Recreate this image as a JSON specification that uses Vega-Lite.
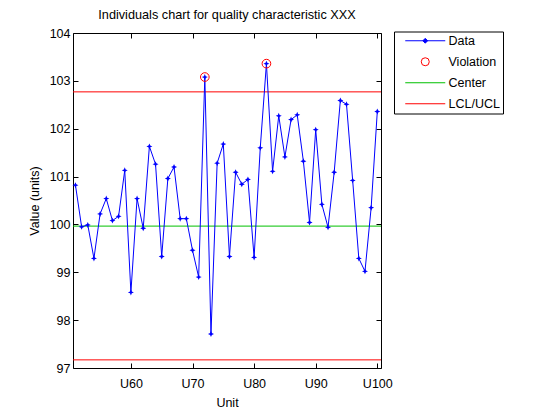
{
  "$schema": "https://vega.github.io/schema/vega-lite/v6.json",
  "width": 308,
  "height": 335,
  "autosize": {"type": "none"},
  "padding": {"left": 73, "top": 33, "right": 179, "bottom": 52},
  "background": "white",
  "title": {"text": "Individuals chart for quality characteristic XXX", "fontSize": 12.7, "fontWeight": "normal", "font": "Liberation Sans", "color": "black", "offset": 5, "anchor": "middle", "frame": "group"},
  "config": {
    "font": "Liberation Sans",
    "view": {"stroke": "black", "strokeWidth": 1},
    "axis": {"grid": false, "domain": false, "tickColor": "black", "tickSize": -5, "tickWidth": 1, "labelColor": "black", "titleColor": "black", "labelFontSize": 12.5, "titleFontSize": 12.5, "titleFontWeight": "normal", "labelFont": "Liberation Sans", "titleFont": "Liberation Sans"}
  },
  "datasets": {
    "obs": [
      {"unit": 51, "value": 100.82}, {"unit": 52, "value": 99.95}, {"unit": 53, "value": 99.99}, {"unit": 54, "value": 99.29},
      {"unit": 55, "value": 100.22}, {"unit": 56, "value": 100.54}, {"unit": 57, "value": 100.08}, {"unit": 58, "value": 100.17},
      {"unit": 59, "value": 101.13}, {"unit": 60, "value": 98.58}, {"unit": 61, "value": 100.54}, {"unit": 62, "value": 99.92},
      {"unit": 63, "value": 101.63}, {"unit": 64, "value": 101.26}, {"unit": 65, "value": 99.33}, {"unit": 66, "value": 100.96},
      {"unit": 67, "value": 101.2}, {"unit": 68, "value": 100.12}, {"unit": 69, "value": 100.12}, {"unit": 70, "value": 99.46},
      {"unit": 71, "value": 98.9}, {"unit": 72, "value": 103.08}, {"unit": 73, "value": 97.71}, {"unit": 74, "value": 101.28},
      {"unit": 75, "value": 101.68}, {"unit": 76, "value": 99.33}, {"unit": 77, "value": 101.09}, {"unit": 78, "value": 100.84},
      {"unit": 79, "value": 100.94}, {"unit": 80, "value": 99.31}, {"unit": 81, "value": 101.6}, {"unit": 82, "value": 103.36},
      {"unit": 83, "value": 101.11}, {"unit": 84, "value": 102.27}, {"unit": 85, "value": 101.41}, {"unit": 86, "value": 102.19},
      {"unit": 87, "value": 102.29}, {"unit": 88, "value": 101.32}, {"unit": 89, "value": 100.04}, {"unit": 90, "value": 101.98},
      {"unit": 91, "value": 100.42}, {"unit": 92, "value": 99.94}, {"unit": 93, "value": 101.09}, {"unit": 94, "value": 102.59},
      {"unit": 95, "value": 102.51}, {"unit": 96, "value": 100.92}, {"unit": 97, "value": 99.29}, {"unit": 98, "value": 99.02},
      {"unit": 99, "value": 100.35}, {"unit": 100, "value": 102.36}
    ],
    "limits": [
      {"name": "Center", "y": 99.965},
      {"name": "LCL/UCL", "y": 102.77},
      {"name": "LCL/UCL", "y": 97.17}
    ]
  },
  "resolve": {"axis": {"x": "independent", "y": "independent"}},
  "layer": [
    {
      "data": {"name": "limits"},
      "mark": {"type": "rule", "strokeWidth": 1},
      "encoding": {
        "y": {"field": "y", "type": "quantitative", "scale": {"domain": [97, 104], "nice": false, "zero": false},
              "axis": {"orient": "left", "values": [97, 98, 99, 100, 101, 102, 103, 104], "title": "Value (units)", "labelPadding": 8, "titlePadding": 8}},
        "color": {"field": "name", "type": "nominal",
          "scale": {"domain": ["Data", "Violation", "Center", "LCL/UCL"], "range": ["#0000ff", "#ff0000", "#00c000", "#ff0000"]},
          "legend": {
            "title": null, "orient": "none", "legendX": 321, "legendY": -1.5, "padding": 3,
            "strokeColor": "black", "fillColor": "white",
            "symbolSize": 64, "rowPadding": 8, "labelFontSize": 12.5, "labelColor": "black", "labelFont": "Liberation Sans",
            "symbolOffset": 22, "labelOffset": 17,
            "encode": {
              "symbols": {"update": {
                "shape": {"signal": "datum.value === 'Violation' ? 'circle' : datum.value === 'Data' ? 'M-5,0H5M0,-0.6L0.6,0L0,0.6L-0.6,0Z' : 'M-5,0H5'"},
                "fill": {"signal": "datum.value === 'Data' ? '#0000ff' : 'transparent'"},
                "strokeWidth": {"value": 1},
                "opacity": {"value": 1}
              }}
            }
          }
        }
      }
    },
    {
      "data": {"name": "obs"},
      "mark": {"type": "line", "strokeWidth": 1, "color": "#0000ff"},
      "encoding": {
        "x": {"field": "unit", "type": "quantitative", "scale": {"domain": [50.6, 100.6], "nice": false, "zero": false},
              "axis": {"orient": "bottom", "values": [60, 70, 80, 90, 100], "labelExpr": "'U' + datum.value", "title": "Unit", "labelPadding": 14, "titlePadding": 7}},
        "y": {"field": "value", "type": "quantitative", "axis": null}
      }
    },
    {
      "data": {"name": "obs"},
      "mark": {"type": "point", "filled": true, "opacity": 1, "size": 36, "color": "#0000ff", "shape": "M0,-1L0.3,-0.3L1,0L0.3,0.3L0,1L-0.3,0.3L-1,0L-0.3,-0.3Z"},
      "encoding": {
        "x": {"field": "unit", "type": "quantitative", "axis": {"orient": "top", "values": [60, 70, 80, 90, 100], "labels": false, "title": null}},
        "y": {"field": "value", "type": "quantitative", "axis": {"orient": "right", "values": [97, 98, 99, 100, 101, 102, 103, 104], "labels": false, "title": null}}
      }
    },
    {
      "data": {"name": "obs"},
      "transform": [{"filter": "datum.value > 102.77"}],
      "mark": {"type": "point", "filled": false, "opacity": 1, "size": 75, "strokeWidth": 1, "color": "#ff0000"},
      "encoding": {
        "x": {"field": "unit", "type": "quantitative", "axis": null},
        "y": {"field": "value", "type": "quantitative", "axis": null}
      }
    }
  ]
}
